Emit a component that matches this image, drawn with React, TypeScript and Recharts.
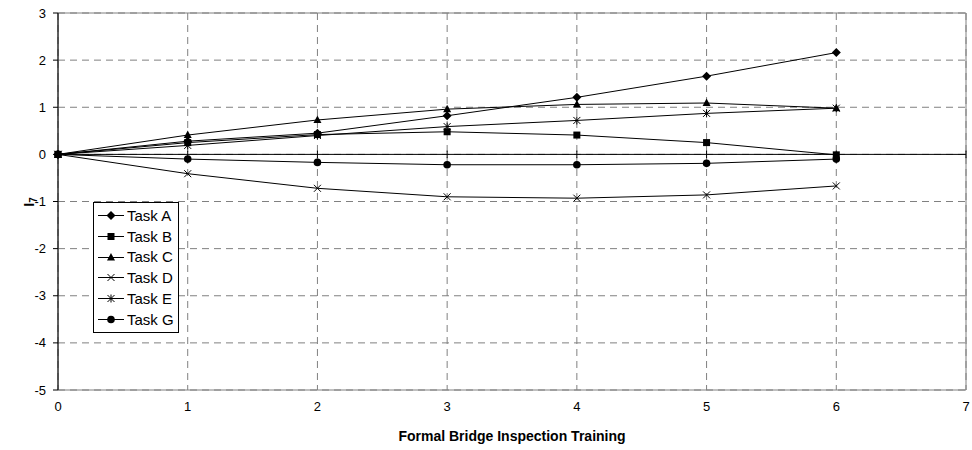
import React from "react";
import {
  LineChart, Line, XAxis, YAxis, CartesianGrid, Legend, ReferenceLine, ReferenceArea,
} from "recharts";

// values, x = 0..6
const xValues = [0, 1, 2, 3, 4, 5, 6];
const taskA = [0, 0.28, 0.45, 0.82, 1.21, 1.66, 2.16];
const taskB = [0, 0.25, 0.42, 0.48, 0.41, 0.25, -0.01];
const taskC = [0, 0.41, 0.73, 0.96, 1.06, 1.09, 0.98];
const taskD = [0, -0.41, -0.72, -0.9, -0.93, -0.86, -0.67];
const taskE = [0, 0.19, 0.4, 0.59, 0.72, 0.87, 0.98];
const taskG = [0, -0.1, -0.17, -0.22, -0.22, -0.19, -0.1];

const xTicks = [0, 1, 2, 3, 4, 5, 6, 7];
const yTicks = [-5, -4, -3, -2, -1, 0, 1, 2, 3];

const seriesNames = ["Task A", "Task B", "Task C", "Task D", "Task E", "Task G"];
const seriesKeys = ["a", "b", "c", "d", "e", "g"];
const seriesShapes = ["diamond", "square", "triangle", "x", "star", "circle"];
const seriesValues = [taskA, taskB, taskC, taskD, taskE, taskG];

const data = xValues.map((x, i) => {
  const row: Record<string, number> = { x };
  seriesKeys.forEach((k, s) => { row[k] = seriesValues[s][i]; });
  return row;
});

const FONT = "Arial, 'Liberation Sans', sans-serif";

function Marker({ shape, cx, cy }: { shape: string; cx: number; cy: number }) {
  const s = 3.5;
  switch (shape) {
    case "diamond":
      return <polygon points={`${cx},${cy - 4.5} ${cx + 4.5},${cy} ${cx},${cy + 4.5} ${cx - 4.5},${cy}`} fill="#000" />;
    case "square":
      return <rect x={cx - s} y={cy - s} width={s * 2} height={s * 2} fill="#000" />;
    case "triangle":
      return <polygon points={`${cx},${cy - 4.5} ${cx + 4},${cy + 3} ${cx - 4},${cy + 3}`} fill="#000" />;
    case "x":
      return (
        <g stroke="#000" strokeWidth={1}>
          <line x1={cx - s} y1={cy - s} x2={cx + s} y2={cy + s} />
          <line x1={cx - s} y1={cy + s} x2={cx + s} y2={cy - s} />
        </g>
      );
    case "star":
      return (
        <g stroke="#000" strokeWidth={1}>
          <line x1={cx - s} y1={cy - s} x2={cx + s} y2={cy + s} />
          <line x1={cx - s} y1={cy + s} x2={cx + s} y2={cy - s} />
          <line x1={cx} y1={cy - 4} x2={cx} y2={cy + 4} />
        </g>
      );
    default:
      return <circle cx={cx} cy={cy} r={3.8} fill="#000" />;
  }
}

const makeDot = (shape: string) => (props: any) => {
  const { cx, cy, index } = props;
  if (cx == null || cy == null) return <g key={index} />;
  return <Marker key={index} shape={shape} cx={cx} cy={cy} />;
};

function LegendBox() {
  return (
    <div style={{ border: "1px solid #000", background: "#fff", width: 86, padding: "2px 0 2px 0", fontFamily: FONT, fontSize: 15, boxSizing: "border-box" }}>
      {seriesNames.map((name, i) => (
        <div key={name} style={{ display: "flex", alignItems: "center", height: 20.8 }}>
          <svg width={32} height={21}>
            <line x1={4} y1={10.5} x2={30} y2={10.5} stroke="#000" strokeWidth={1} />
            <Marker shape={seriesShapes[i]} cx={17} cy={10.5} />
          </svg>
          <span style={{ marginLeft: 1, color: "#000" }}>{name}</span>
        </div>
      ))}
    </div>
  );
}

export default function App() {
  return (
    <div style={{ position: "absolute", left: 0, top: 0, width: 972, height: 450, background: "#fff" }}>
      <LineChart width={972} height={450} data={data} margin={{ top: 13, right: 6, left: 0, bottom: 0 }}>
        <CartesianGrid stroke="#808080" strokeDasharray="7 5" />
        <ReferenceArea x1={0} x2={7} y1={-5} y2={3} fill="none" stroke="#808080" strokeWidth={1} ifOverflow="visible" />
        <XAxis
          dataKey="x"
          type="number"
          domain={[0, 7]}
          ticks={xTicks}
          axisLine={false}
          tickLine={false}
          tickSize={5}
          tickMargin={7}
          height={60}
          tick={{ fontFamily: FONT, fontSize: 13, fill: "#000" }}
          label={{ value: "Formal Bridge Inspection Training", position: "insideBottom", offset: 9, fontFamily: FONT, fontSize: 14, fontWeight: "bold", fill: "#000" }}
        />
        <YAxis
          type="number"
          domain={[-5, 3]}
          ticks={yTicks}
          width={58}
          axisLine={{ stroke: "#000" }}
          tickLine={{ stroke: "#000" }}
          tickSize={5}
          tickMargin={7}
          tick={{ fontFamily: FONT, fontSize: 13, fill: "#000" }}
        />
        <ReferenceLine y={0} stroke="#000" strokeWidth={1} />
        {xTicks.map(t => (
          <ReferenceLine key={t} segment={[{ x: t, y: -0.08 }, { x: t, y: 0.08 }]} stroke="#000" />
        ))}
        {seriesKeys.map((k, i) => (
          <Line
            key={k}
            dataKey={k}
            name={seriesNames[i]}
            stroke="#000"
            strokeWidth={1}
            dot={makeDot(seriesShapes[i])}
            activeDot={false}
            isAnimationActive={false}
          />
        ))}
        <Legend
          layout="vertical"
          align="center"
          verticalAlign="middle"
          content={() => <LegendBox />}
          wrapperStyle={{ position: "absolute", left: 93, top: 202, width: "auto", height: "auto" }}
        />
      </LineChart>
      <svg width={60} height={450} style={{ position: "absolute", left: 0, top: 0, pointerEvents: "none" }}>
        <text x={34} y={202} transform="rotate(-90, 34, 202)" textAnchor="middle" fontFamily={FONT} fontSize={14} fontWeight="bold" fill="#000">
          I<tspan fontSize={10} dy={3}>7</tspan>
        </text>
      </svg>
    </div>
  );
}
